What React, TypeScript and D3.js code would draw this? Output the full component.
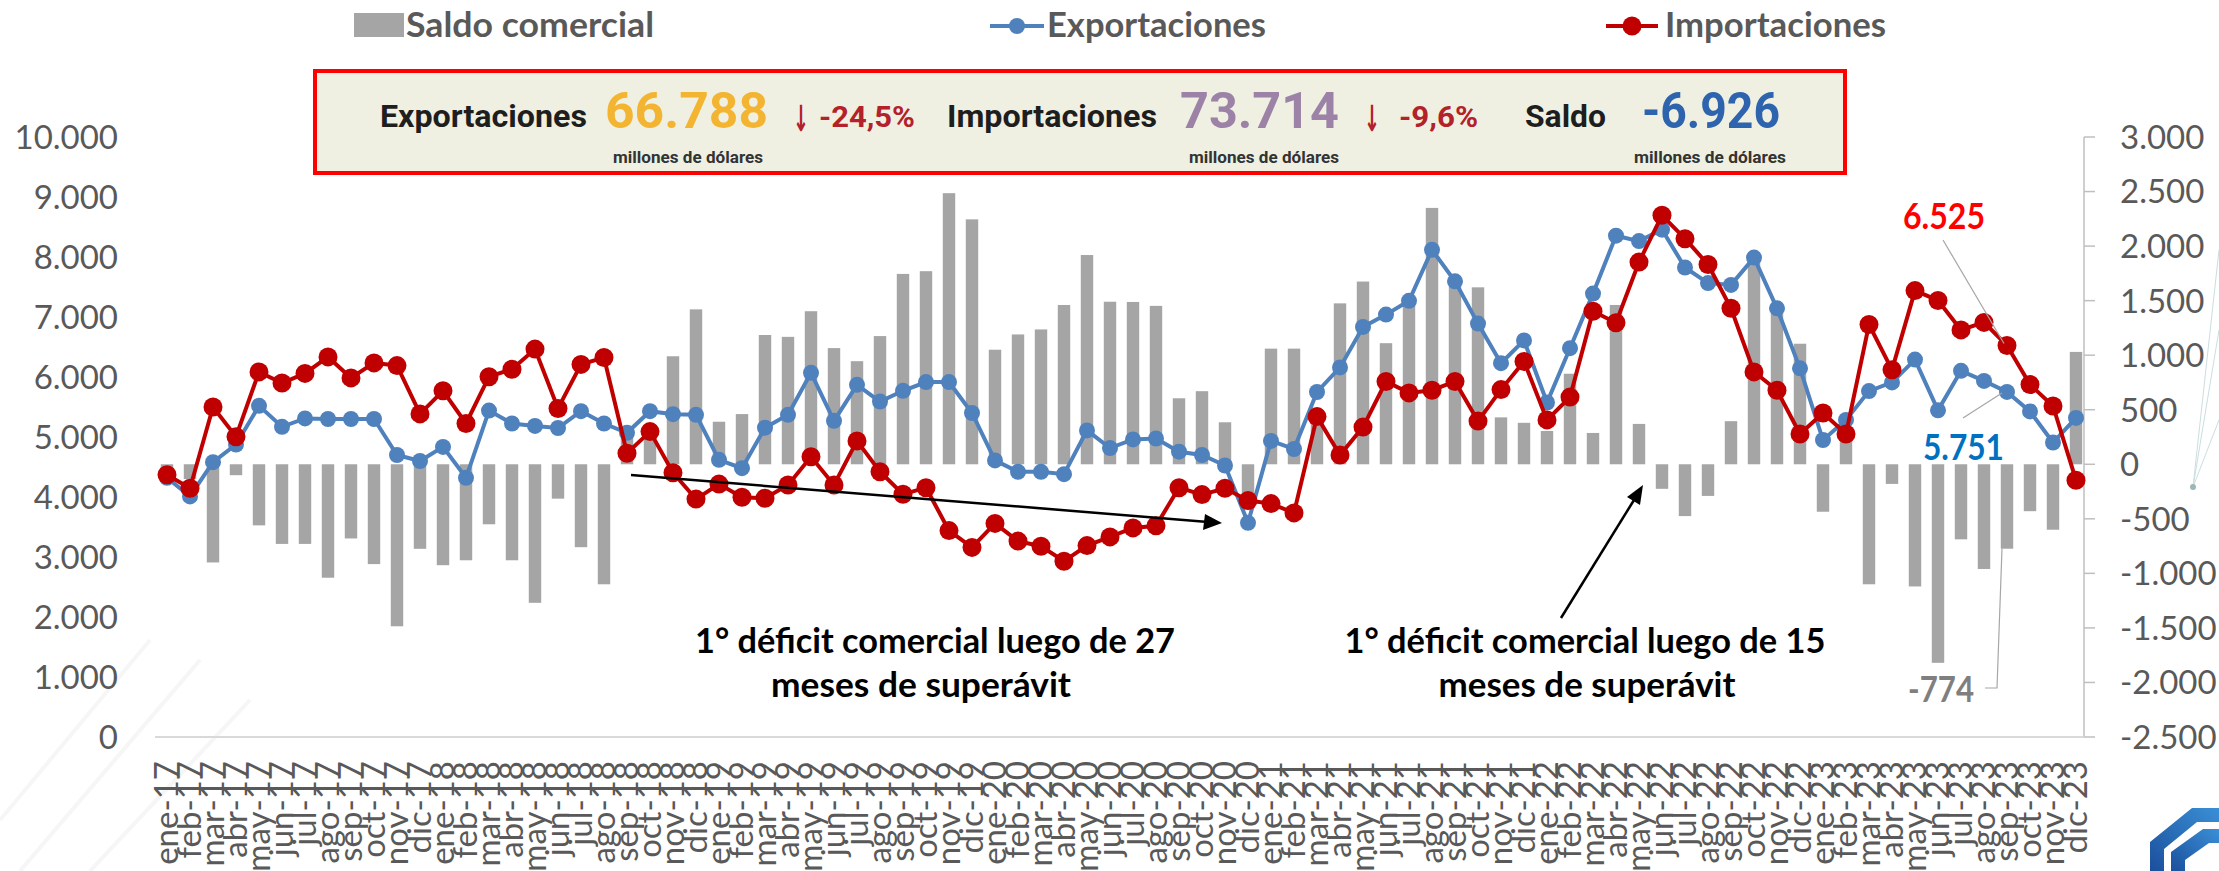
import React, { useEffect } from "react"
import * as d3 from "d3"

const W = 2219
const H = 871

const months = ["ene", "feb", "mar", "abr", "may", "jun", "jul", "ago", "sep", "oct", "nov", "dic"]
const years = ["17", "18", "19", "20", "21", "22", "23"]
const categories = years.flatMap((y) => months.map((m) => `${m}-${y}`))

// millones de dólares
const exportaciones = [
    4320, 4010, 4580, 4875, 5520, 5170, 5310, 5300, 5300, 5300, 4700, 4600,
    4835, 4320, 5440, 5225, 5185, 5150, 5430, 5225, 5070, 5430, 5380, 5370,
    4620, 4480, 5155, 5370, 6070, 5270, 5870, 5590, 5770, 5915, 5915, 5400,
    4610, 4420, 4420, 4380, 5110, 4815, 4960, 4975, 4755, 4700, 4525, 3570,
    4935, 4800, 5750, 6160, 6835, 7040, 7270, 8120, 7595, 6890, 6230, 6610,
    5575, 6480, 7390, 8355, 8265, 8455, 7825, 7565, 7535, 7990, 7145, 6145,
    4950, 5285, 5765, 5910, 6290, 5445, 6103, 5935, 5751, 5427, 4908, 5318,
]

const importaciones = [
    4370, 4145, 5500, 5005, 6085, 5900, 6060, 6335, 5985, 6235, 6190, 5385,
    5770, 5225, 6005, 6130, 6465, 5475, 6210, 6325, 4730, 5090, 4405, 3965,
    4215, 3995, 3980, 4200, 4670, 4200, 4935, 4420, 4045, 4155, 3440, 3160,
    3560, 3265, 3180, 2930, 3190, 3335, 3485, 3520, 4155, 4040, 4145, 3940,
    3890, 3735, 5340, 4700, 5165, 5925, 5735, 5780, 5925, 5265, 5790, 6260,
    5285, 5665, 7095, 6905, 7915, 8695, 8305, 7875, 7145, 6085, 5780, 5050,
    5400, 5050, 6875, 6120, 7440, 7275, 6785, 6910, 6525, 5875, 5517, 4280,
]

const saldo = [
    -50, -135, -900, -100, -560, -730, -730, -1040, -680, -915, -1485, -775,
    -925, -880, -550, -880, -1270, -315, -760, -1100, 340, 340, 990, 1420,
    390, 460, 1185, 1168, 1403, 1065, 945, 1175, 1745, 1770, 2485, 2245,
    1050, 1190, 1236, 1460, 1918, 1490, 1488, 1452, 605, 670, 385, -300,
    1060, 1060, 410, 1475, 1675, 1110, 1530, 2350, 1670, 1622, 430, 380,
    305, 830, 287, 1460, 370, -225, -475, -290, 395, 1880, 1390, 1105,
    -435, 240, -1100, -180, -1120, -1820, -688, -960, -774, -430, -600, 1030,
]

const leftTicks = [0, 1000, 2000, 3000, 4000, 5000, 6000, 7000, 8000, 9000, 10000]
const rightTicks = [-2500, -2000, -1500, -1000, -500, 0, 500, 1000, 1500, 2000, 2500, 3000]

const fmt = d3
    .formatLocale({ decimal: ",", thousands: ".", grouping: [3], currency: ["$", ""], minus: "-" })
    .format(",")

const BLUE = "#4F81BD"
const RED = "#C00000"
const GRAY = "#A5A5A5"
const AXIS_TXT = "#595959"
const LATO = "Lato, 'Open Sans', sans-serif"
const NARROW = "'Liberation Sans Narrow', 'Roboto', 'Liberation Sans', sans-serif"

const App = () => {
    useEffect(() => {
        document.body.style.margin = "0"
    }, [])

    const x = d3.scaleBand().domain(categories).range([155.5, 2087.5]).padding(0)
    const xc = (i) => x(categories[i]) + x.bandwidth() / 2
    const yL = d3.scaleLinear().domain([0, 10000]).range([737, 137])
    const yR = d3.scaleLinear().domain([-2500, 3000]).range([737, 137])
    const barW = x.bandwidth() * 0.54

    const line = d3
        .line()
        .x((d, i) => xc(i))
        .y((d) => yL(d))

    const sepIdx = categories.indexOf("sep-23")

    return (
        <svg width={W} height={H} style={{ display: "block", background: "#fff" }}>
            {/* faint decoration */}
            <g stroke="#F6F6F6" strokeWidth={4} fill="none">
                <line x1={0} y1={820} x2={150} y2={640} />
                <line x1={20} y1={871} x2={200} y2={660} />
                <line x1={90} y1={871} x2={250} y2={700} />
            </g>
            <g stroke="#A9C9CC" strokeWidth={1} opacity={0.6}>
                <line x1={2193} y1={487} x2={2219} y2={250} />
                <line x1={2193} y1={487} x2={2219} y2={330} />
                <line x1={2193} y1={487} x2={2219} y2={420} />
            </g>
            <circle cx={2193} cy={487} r={3} fill="#9DB7B9" />

            {/* legend */}
            <rect x={354} y={13} width={50} height={24} fill={GRAY} />
            <text x={406} y={37} fontFamily={LATO} fontWeight={700} fontSize={34} fill={AXIS_TXT} textLength={248} lengthAdjust="spacingAndGlyphs">
                Saldo comercial
            </text>
            <line x1={990} x2={1044} y1={26} y2={26} stroke={BLUE} strokeWidth={4} />
            <circle cx={1017} cy={26} r={8} fill={BLUE} />
            <text x={1047} y={37} fontFamily={LATO} fontWeight={700} fontSize={34} fill={AXIS_TXT} textLength={219} lengthAdjust="spacingAndGlyphs">
                Exportaciones
            </text>
            <line x1={1606} x2={1658} y1={26} y2={26} stroke={RED} strokeWidth={4} />
            <circle cx={1632} cy={26} r={9.5} fill={RED} />
            <text x={1665} y={37} fontFamily={LATO} fontWeight={700} fontSize={34} fill={AXIS_TXT} textLength={221} lengthAdjust="spacingAndGlyphs">
                Importaciones
            </text>

            {/* summary box */}
            <rect x={315} y={71} width={1530} height={102} fill="#EFF0E2" stroke="#FF0000" strokeWidth={4} />
            <g fontFamily={NARROW} fontWeight={700}>
                <text x={380} y={127} fontSize={31} fill="#1E1E1E" textLength={207} lengthAdjust="spacingAndGlyphs">Exportaciones</text>
                <text x={605} y={128} fontSize={50} fill="#F2B431" textLength={163} lengthAdjust="spacingAndGlyphs">66.788</text>
                <text x={793} y={131} fontSize={36} fill="#B3212B" fontFamily="'DejaVu Sans', sans-serif" textLength={16} lengthAdjust="spacingAndGlyphs">↓</text>
                <text x={819} y={127} fontSize={29} fill="#B3212B" textLength={96} lengthAdjust="spacingAndGlyphs">-24,5%</text>
                <text x={947} y={127} fontSize={31} fill="#1E1E1E" textLength={210} lengthAdjust="spacingAndGlyphs">Importaciones</text>
                <text x={1180} y={128} fontSize={50} fill="#9B82A6" textLength={159} lengthAdjust="spacingAndGlyphs">73.714</text>
                <text x={1364} y={131} fontSize={36} fill="#B3212B" fontFamily="'DejaVu Sans', sans-serif" textLength={16} lengthAdjust="spacingAndGlyphs">↓</text>
                <text x={1399} y={127} fontSize={29} fill="#B3212B" textLength={79} lengthAdjust="spacingAndGlyphs">-9,6%</text>
                <text x={1525} y={127} fontSize={31} fill="#1E1E1E" textLength={81} lengthAdjust="spacingAndGlyphs">Saldo</text>
                <text x={1642} y={128} fontSize={50} fill="#2E64AD" textLength={138} lengthAdjust="spacingAndGlyphs">-6.926</text>
                <text x={688} y={163} fontSize={17} fill="#333" textAnchor="middle" textLength={150} lengthAdjust="spacingAndGlyphs">millones de dólares</text>
                <text x={1264} y={163} fontSize={17} fill="#333" textAnchor="middle" textLength={150} lengthAdjust="spacingAndGlyphs">millones de dólares</text>
                <text x={1710} y={163} fontSize={17} fill="#333" textAnchor="middle" textLength={152} lengthAdjust="spacingAndGlyphs">millones de dólares</text>
            </g>

            {/* left axis labels */}
            <g fontFamily={LATO} fontSize={33} fill={AXIS_TXT}>
                {leftTicks.map((t) => (
                    <text key={t} x={118} y={yL(t)} dy="0.36em" textAnchor="end">
                        {fmt(t)}
                    </text>
                ))}
            </g>

            {/* right axis */}
            <line x1={2084} x2={2084} y1={yR(3000)} y2={yR(-2500)} stroke="#BFBFBF" strokeWidth={1.5} />
            {rightTicks.map((t) => (
                <line key={t} x1={2084} x2={2095} y1={yR(t)} y2={yR(t)} stroke="#BFBFBF" strokeWidth={1.5} />
            ))}
            <g fontFamily={LATO} fontSize={33} fill={AXIS_TXT}>
                {rightTicks.map((t) => (
                    <text key={t} x={2120} y={yR(t)} dy="0.36em">
                        {fmt(t)}
                    </text>
                ))}
            </g>

            {/* bottom axis line */}
            <line x1={155} x2={2084} y1={yL(0)} y2={yL(0)} stroke="#D9D9D9" strokeWidth={2} />

            {/* x labels */}
            <g fontFamily={LATO} fontSize={33} fill={AXIS_TXT}>
                {categories.map((c, i) => (
                    <text key={c} transform={`translate(${xc(i) + 11},761) rotate(-90)`} textAnchor="end">
                        {c}
                    </text>
                ))}
            </g>

            {/* saldo bars */}
            <g fill={GRAY}>
                {saldo.map((v, i) => (
                    <rect
                        key={i}
                        x={xc(i) - barW / 2}
                        y={Math.min(yR(v), yR(0))}
                        width={barW}
                        height={Math.abs(yR(v) - yR(0))}
                    />
                ))}
            </g>

            {/* exportaciones */}
            <path d={line(exportaciones)} fill="none" stroke={BLUE} strokeWidth={4} />
            {exportaciones.map((v, i) => (
                <circle key={i} cx={xc(i)} cy={yL(v)} r={8} fill={BLUE} />
            ))}

            {/* importaciones */}
            <path d={line(importaciones)} fill="none" stroke={RED} strokeWidth={4} />
            {importaciones.map((v, i) => (
                <circle key={i} cx={xc(i)} cy={yL(v)} r={9.5} fill={RED} />
            ))}

            {/* annotations: arrows */}
            <g stroke="#000" strokeWidth={2.5}>
                <line x1={631} y1={475} x2={1205} y2={521.7} />
                <line x1={1561} y1={618} x2={1634} y2={500} />
            </g>
            <polygon points="1222,523 1203,530 1205,514" fill="#000" />
            <polygon points="1643,485 1640,505 1627,497" fill="#000" />

            <g fontFamily={LATO} fontWeight={700} fontSize={35} fill="#000" textAnchor="middle">
                <text x={935} y={653} textLength={480} lengthAdjust="spacingAndGlyphs">1° déficit comercial luego de 27</text>
                <text x={921} y={697} textLength={300} lengthAdjust="spacingAndGlyphs">meses de superávit</text>
                <text x={1585} y={653} textLength={481} lengthAdjust="spacingAndGlyphs">1° déficit comercial luego de 15</text>
                <text x={1587} y={697} textLength={297} lengthAdjust="spacingAndGlyphs">meses de superávit</text>
            </g>

            {/* data labels for sep-23 */}
            <g stroke="#A6A6A6" strokeWidth={1.2} fill="none">
                <line x1={1943} y1={240} x2={xc(sepIdx) - 3} y2={yL(importaciones[sepIdx]) - 2} />
                <line x1={1963} y1={418} x2={xc(sepIdx) - 5} y2={yL(exportaciones[sepIdx]) + 1} />
                <polyline points={`1985,688 1997,688 ${xc(sepIdx) - 5},${yR(saldo[sepIdx])}`} />
            </g>
            <g fontFamily={LATO} fontWeight={700} fontSize={36}>
                <text x={1903} y={229} fill="#FF0000" textLength={82} lengthAdjust="spacingAndGlyphs">{fmt(importaciones[sepIdx])}</text>
                <text x={1923} y={460} fill="#0070C0" textLength={81} lengthAdjust="spacingAndGlyphs">{fmt(exportaciones[sepIdx])}</text>
                <text x={1908} y={702} fill="#7F7F7F" textLength={66} lengthAdjust="spacingAndGlyphs">{fmt(saldo[sepIdx])}</text>
            </g>

            {/* logo */}
            <defs>
                <linearGradient id="lg" x1="0" y1="1" x2="1" y2="0">
                    <stop offset="0" stopColor="#1B4F9C" />
                    <stop offset="1" stopColor="#3A8FD6" />
                </linearGradient>
            </defs>
            <polygon points="2150,842 2192,808 2219,808 2219,822 2197,822 2164,849 2164,871 2150,871" fill="url(#lg)" />
            <polygon points="2171,852 2203,829 2219,829 2219,843 2209,843 2185,860 2185,871 2171,871" fill="url(#lg)" />
        </svg>
    )
}

export default App
